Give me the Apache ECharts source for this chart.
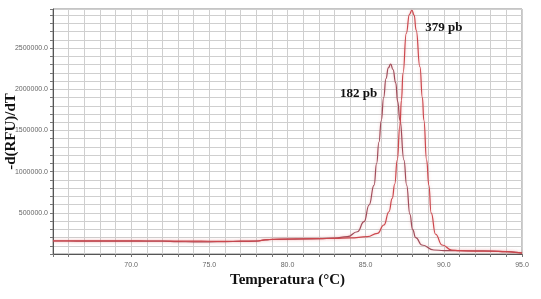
<!DOCTYPE html>
<html lang="en">
<head>
    <meta charset="UTF-8">
    <title>Curva de melting</title>
    <script src="https://cdn.jsdelivr.net/npm/echarts@6/dist/echarts.min.js"></script>
</head>
<body style="margin:0;background:#fff;">
    <div id="main" style="width: 541px;height:299px;"></div>
    <script type="text/javascript">
        // 182 pb
        var tempA = [65, 66, 67, 68, 69, 70, 71, 72, 73, 74, 75, 76, 77, 78, 78.6, 79, 80, 81, 82, 83, 83.83,
            84.47, 84.9, 85.22, 85.54, 85.7, 85.85, 86.0, 86.15, 86.3, 86.45, 86.6, 86.75, 86.92, 87.05,
            87.19, 87.45, 87.62, 87.83, 88.0, 88.2, 88.6, 89.36, 90, 91, 92, 93, 94, 94.6, 95];
        var valA = [158000, 158000, 157000, 158000, 157000, 157000, 156000, 156000, 150000, 147000, 148000, 150000, 153000, 156000, 172000, 176000, 180000, 183000, 186000, 192000, 210000,
            270000, 392000, 595000, 837000, 1100000, 1360000, 1620000, 1900000, 2130000, 2260000, 2305000, 2240000, 2080000, 1850000,
            1626000, 1141000, 837000, 480000, 300000, 200000, 109000, 48500, 42000, 40000, 38000, 36000, 30000, 20000, 10000];

        // 379 pb
        var tempB = [65, 66, 67, 68, 69, 70, 71, 72, 73, 74, 75, 76, 77, 78, 78.7, 79, 80, 81, 82, 83, 84, 85.11,
            85.75, 86.17, 86.49, 86.7, 86.86, 87.02, 87.19, 87.29, 87.39, 87.6, 87.8, 87.96, 88.1, 88.23,
            88.47, 88.63, 88.72, 88.9, 89.04, 89.19, 89.47, 89.89, 90.51, 91, 92, 93, 94, 94.6, 95];
        var valB = [160000, 160000, 160000, 160000, 159000, 159000, 158000, 158000, 157000, 156000, 155000, 154000, 156000, 158000, 174000, 178000, 181000, 184000, 187000, 190000, 196000, 210000,
            251000, 352000, 513000, 676000, 850000, 1141000, 1560000, 1869000, 2200000, 2680000, 2910000, 2960000, 2900000, 2718000,
            2273000, 1900000, 1626000, 1141000, 837000, 500000, 240000, 109000, 48500, 40000, 36000, 34000, 30000, 20000, 10000];

        var peakLabels = ['182 pb', '379 pb'];

        function pairs(t, v) {
            var out = [];
            for (var i = 0; i < t.length; i++) out.push([t[i], v[i]]);
            return out;
        }

        var serif = '"Liberation Serif", "DejaVu Serif", serif';
        var sans = '"Liberation Sans", Arial, sans-serif';

        var myChart = echarts.init(document.getElementById('main'));

        var option = {
            backgroundColor: '#fff',
            animation: false,
            grid: {
                left: 53, right: 19, top: 9, bottom: 45,
                outerBoundsMode: 'none',
                containLabel: false,
                show: true, borderColor: '#8a8a8a', borderWidth: 1
            },
            xAxis: {
                type: 'value',
                min: 65, max: 95, interval: 1,
                name: 'Temperatura (°C)',
                nameLocation: 'middle',
                nameGap: 19,
                nameMoveOverlap: false,
                nameTextStyle: { fontFamily: serif, fontWeight: 'bold', fontSize: 15, color: '#111' },
                axisLine: { lineStyle: { color: '#555', width: 1 } },
                axisTick: { show: true, length: 3, lineStyle: { color: '#777' } },
                axisLabel: {
                    fontFamily: sans, fontSize: 7, color: '#666', margin: 8,
                    formatter: function (v) { return (v % 5 === 0 && v > 65) ? v.toFixed(1) : ''; }
                },
                splitLine: { show: true, lineStyle: { color: '#cfcfcf', width: 1 } }
            },
            yAxis: {
                type: 'value',
                min: 0, max: 2975000, interval: 100000,
                name: '-d(RFU)/dT',
                nameLocation: 'middle',
                nameRotate: 90,
                nameGap: 34,
                nameMoveOverlap: false,
                nameTextStyle: { fontFamily: serif, fontWeight: 'bold', fontSize: 15, color: '#111' },
                axisLine: { show: true, lineStyle: { color: '#555', width: 1 } },
                axisTick: { show: true, length: 3, lineStyle: { color: '#777' } },
                axisLabel: {
                    fontFamily: sans, fontSize: 7, color: '#666', margin: 5,
                    formatter: function (v) { return (v % 500000 === 0 && v > 0) ? v.toFixed(1) : ''; }
                },
                splitLine: { show: true, lineStyle: { color: '#cfcfcf', width: 1 } }
            },
            series: [{
                name: peakLabels[0],
                type: 'line',
                data: pairs(tempA, valA),
                symbol: 'none',
                smooth: 0.5,
                smoothMonotone: 'x',
                lineStyle: { color: '#a04c5a', width: 1.2, shadowColor: 'rgba(220,90,90,0.35)', shadowBlur: 3 },
                markPoint: {
                    symbol: 'circle', symbolSize: 0,
                    data: [{ coord: [86.6, 2305000] }],
                    label: {
                        show: true, formatter: peakLabels[0], offset: [-32, 29],
                        fontFamily: serif, fontWeight: 'bold', fontSize: 13, color: '#111'
                    }
                }
            }, {
                name: peakLabels[1],
                type: 'line',
                data: pairs(tempB, valB),
                symbol: 'none',
                smooth: 0.5,
                smoothMonotone: 'x',
                lineStyle: { color: '#cc474d', width: 1.2, shadowColor: 'rgba(220,90,90,0.35)', shadowBlur: 3 },
                markPoint: {
                    symbol: 'circle', symbolSize: 0,
                    data: [{ coord: [87.96, 2960000] }],
                    label: {
                        show: true, formatter: peakLabels[1], offset: [32, 17],
                        fontFamily: serif, fontWeight: 'bold', fontSize: 13, color: '#111'
                    }
                }
            }]
        };

        myChart.setOption(option);
    </script>
</body>
</html>
